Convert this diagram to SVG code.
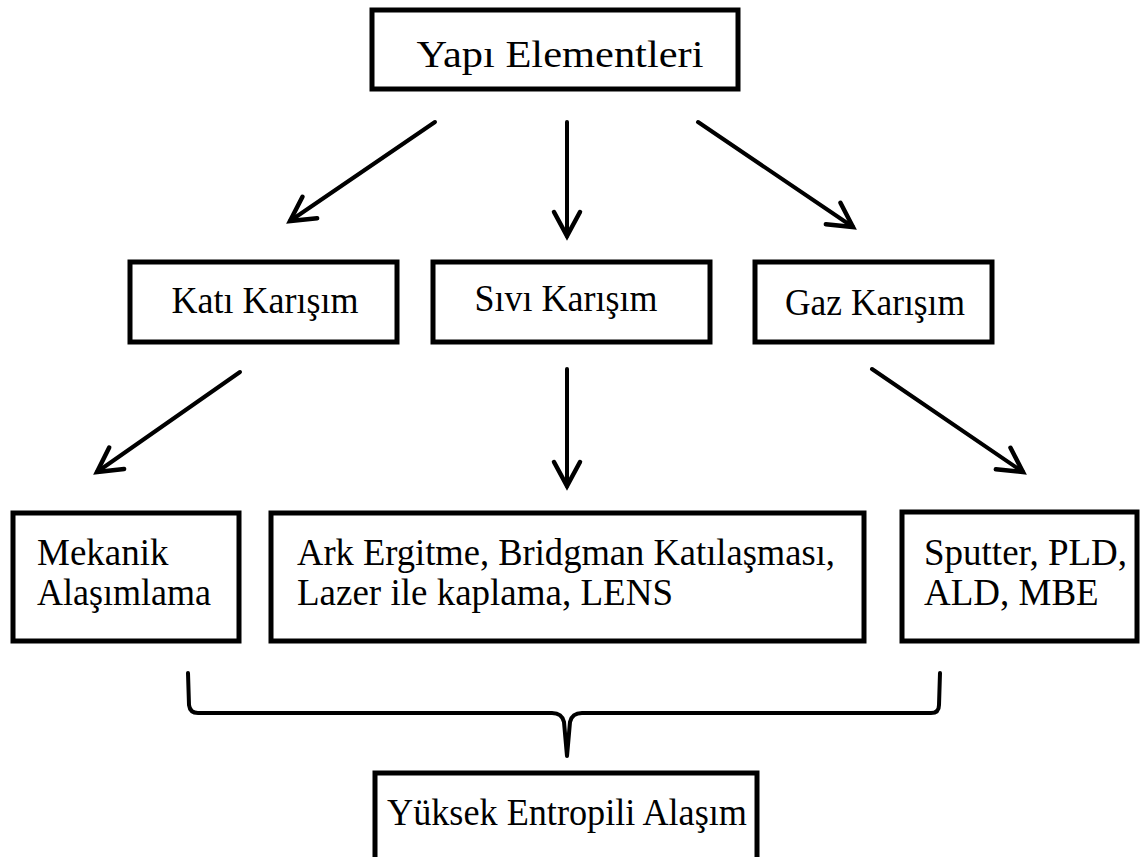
<svg xmlns="http://www.w3.org/2000/svg" width="1146" height="857" viewBox="0 0 1146 857">
  <style>
    .box { fill: #ffffff; stroke: #000000; stroke-width: 5; }
    .t { font-family: "Liberation Serif", "Times New Roman", serif; font-size: 37px; fill: #000000; }
    .tc { text-anchor: middle; }
    .conn { fill: none; stroke: #000000; stroke-width: 4; stroke-linecap: round; stroke-linejoin: round; }
  </style>
  <defs>
    <marker id="arrow" markerUnits="userSpaceOnUse" markerWidth="40" markerHeight="40" viewBox="-30 -20 40 40" refX="0" refY="0" orient="auto">
      <path d="M -24,-13 L 0,0 L -24,13" fill="none" stroke="#000" stroke-width="4.5" stroke-linecap="round" stroke-linejoin="miter"/>
    </marker>
  </defs>
  <rect x="0" y="0" width="1146" height="857" fill="#ffffff"/>

  <g id="yapi-elementleri">
    <rect class="box" x="372" y="10" width="366" height="79"/>
    <text class="t tc" x="560" y="67" font-size="50" textLength="287" lengthAdjust="spacingAndGlyphs">Yapı Elementleri</text>
  </g>

  <g id="kati-karisim">
    <rect class="box" x="130" y="262" width="267" height="80"/>
    <text class="t tc" x="265" y="313" textLength="187" lengthAdjust="spacingAndGlyphs">Katı Karışım</text>
  </g>
  <g id="sivi-karisim">
    <rect class="box" x="433" y="262" width="277" height="80"/>
    <text class="t tc" x="566" y="311" textLength="183" lengthAdjust="spacingAndGlyphs">Sıvı Karışım</text>
  </g>
  <g id="gaz-karisim">
    <rect class="box" x="755" y="262" width="237" height="80"/>
    <text class="t tc" x="875" y="315" textLength="180" lengthAdjust="spacingAndGlyphs">Gaz Karışım</text>
  </g>

  <g id="mekanik-alasimlama">
    <rect class="box" x="13" y="513" width="226" height="128"/>
    <text class="t" x="37" y="565">Mekanik</text>
    <text class="t" x="37" y="605" textLength="174" lengthAdjust="spacingAndGlyphs">Alaşımlama</text>
  </g>
  <g id="ark-ergitme">
    <rect class="box" x="271" y="513" width="593" height="128"/>
    <text class="t" x="297" y="565" textLength="538" lengthAdjust="spacingAndGlyphs">Ark Ergitme, Bridgman Katılaşması,</text>
    <text class="t" x="297" y="605">Lazer ile kaplama, LENS</text>
  </g>
  <g id="sputter">
    <rect class="box" x="902" y="512" width="235" height="129"/>
    <text class="t" x="924" y="565">Sputter, PLD,</text>
    <text class="t" x="924" y="605">ALD, MBE</text>
  </g>

  <g id="yuksek-entropili-alasim">
    <rect class="box" x="375" y="773" width="382" height="88"/>
    <text class="t tc" x="567" y="825" textLength="360" lengthAdjust="spacingAndGlyphs">Yüksek Entropili Alaşım</text>
  </g>

  <g id="connectors">
    <line class="conn" x1="435" y1="122" x2="290" y2="221" marker-end="url(#arrow)"/>
    <line class="conn" x1="567" y1="122" x2="567" y2="236" marker-end="url(#arrow)"/>
    <line class="conn" x1="698" y1="122" x2="853" y2="227" marker-end="url(#arrow)"/>
    <line class="conn" x1="240" y1="372" x2="97" y2="472" marker-end="url(#arrow)"/>
    <line class="conn" x1="567" y1="369" x2="567" y2="486" marker-end="url(#arrow)"/>
    <line class="conn" x1="872" y1="369" x2="1023" y2="472" marker-end="url(#arrow)"/>
    <path class="conn" d="M 188,673 L 189,705 Q 190,713 198,713 L 552,713 Q 562,713 564,722 L 567,756 L 570,722 Q 572,713 582,713 L 931,713 Q 939,713 939,705 L 940,673"/>
  </g>
</svg>
